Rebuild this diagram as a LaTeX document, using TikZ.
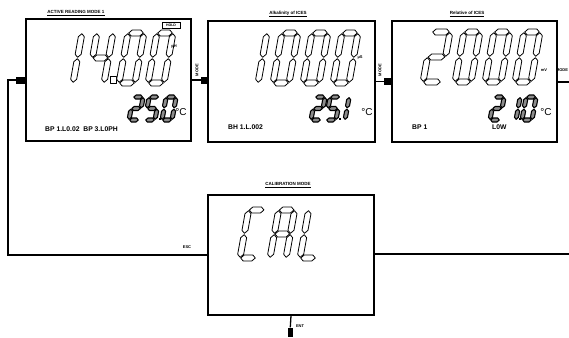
\documentclass[tikz,border=0pt]{standalone}
\usepackage{fontspec}
\setsansfont{Liberation Sans}
\tikzset{
  lcd/.style={draw=black, line width=1.3pt, fill=white, inner sep=0pt},
  seg/.style={draw=black, line width=0.8pt, fill=white, line join=round},
  tseg/.style={draw=black, line width=1.1pt, fill=black!45, line join=round},
  conn/.style={draw=black, line width=1.3pt},
  tag/.style={font=\sffamily\bfseries\fontsize{4}{4}\selectfont, inner sep=0pt},
  title/.style={font=\sffamily\bfseries\fontsize{4.5}{5}\selectfont, inner sep=0pt},
  info/.style={font=\sffamily\bfseries\fontsize{6.8}{7}\selectfont, inner sep=0pt, anchor=west},
  degc/.style={font=\sffamily\fontsize{10}{10}\selectfont, inner sep=0pt},
  pad/.style={fill=black, inner sep=0pt},
}
\newcommand\hsegm[4]{%
 \path[#1] ({#2+0.7},{#4}) -- ({#2+0.7+\dt},{#4+\dt}) -- ({#3-0.7-\dt},{#4+\dt}) -- ({#3-0.7},{#4}) -- ({#3-0.7-\dt},{#4-\dt}) -- ({#2+0.7+\dt},{#4-\dt}) -- cycle;}
\newcommand\vsegm[4]{%
 \path[#1] ({#2},{#3+0.7}) -- ({#2+\dt},{#3+0.7+\dt}) -- ({#2+\dt},{#4-0.7-\dt}) -- ({#2},{#4-0.7}) -- ({#2-\dt},{#4-0.7-\dt}) -- ({#2-\dt},{#3+0.7+\dt}) -- cycle;}
\def\dsega#1{\hsegm{#1}{0}{\dW}{\dH}}
\def\dsegb#1{\vsegm{#1}{\dW}{\dh}{\dH}}
\def\dsegc#1{\vsegm{#1}{\dW}{0}{\dh}}
\def\dsegd#1{\hsegm{#1}{0}{\dW}{0}}
\def\dsege#1{\vsegm{#1}{0}{0}{\dh}}
\def\dsegf#1{\vsegm{#1}{0}{\dh}{\dH}}
\def\dsegg#1{\hsegm{#1}{0}{\dW}{\dh}}
\newcommand\segdigit[7]{%
 \begin{scope}[shift={(#1pt,-#2pt)}, xslant=0.18, x=1pt, y=1pt]
  \pgfmathsetmacro\dW{#3}\pgfmathsetmacro\dH{#4}\pgfmathsetmacro\dt{#5/2}%
  \pgfmathsetmacro\dh{#4/2}%
  \foreach \s in {#7}{\csname dseg\s\endcsname{#6}}
 \end{scope}}
\begin{document}
\begin{tikzpicture}[x=1pt, y=-1pt]
\useasboundingbox (0,0) rectangle (569,337);
% boxes
\node[lcd, minimum width=165pt, minimum height=122pt] (b1) at (108.5,80) {};
\node[lcd, minimum width=167pt, minimum height=121pt] (b2) at (291.5,81.5) {};
\node[lcd, minimum width=165pt, minimum height=121pt] (b3) at (474.5,81.5) {};
\node[lcd, minimum width=166pt, minimum height=120pt] (cal) at (291,255) {};
% titles
\node[title] (t1) at (76,13) {\underline{ACTIVE READING MODE 1}};
\node[title] (t2) at (288,14) {\underline{Alkalinity of ICES}};
\node[title] (t3) at (467,14) {\underline{Relative of ICES}};
\node[title] (t4) at (288,185) {\underline{CALIBRATION MODE}};
% connectors
\coordinate (c1) at (8,81);
\coordinate (e3) at (569,82);
\coordinate (e4) at (569,254);
\draw[conn] (b1.west) -| (c1) |- (cal.west);
\draw[conn] (b1.east) -- (b1.east -| b2.west);
\draw[conn] (b2.east) -- (b2.east -| b3.west);
\draw[conn] (b3.east |- e3) -- (e3);
\draw[conn] (cal.east |- e4) -- (e4);
\node[pad, minimum width=9pt, minimum height=7pt, anchor=east] (p1) at (b1.west) {};
\node[pad, minimum width=6pt, minimum height=7pt, anchor=east] (p2) at (b2.west |- b1.east) {};
\node[pad, minimum width=7pt, minimum height=7pt, anchor=east] (p3) at (b3.west) {};
\node[pad, minimum width=5pt, minimum height=9pt] (p4) at (290,332) {};
\draw[conn] (cal.south) -- (p4);
% connector labels
\node[tag, rotate=90] (l1) at (197,70) {MODE};
\node[tag, rotate=90] (l2) at (380,70) {MODE};
\node[tag] (l3) at (562,70) {MODE};
\node[tag] (l4) at (187,247) {ESC};
\node[tag] (l5) at (300,326) {ENT};
% box 1 display
\segdigit{57}{83}{16}{50}{6}{seg}{b,c}
\segdigit{88}{83}{16}{50}{6}{seg}{f,g,b,c}
\draw[seg] (110,76) rectangle (116,83);
\segdigit{119}{83}{16}{50}{6}{seg}{a,b,c,d,e,f}
\segdigit{148}{83}{16}{50}{6}{seg}{a,b,c,d,e,f}
\node[tag] (u1) at (174,47) {pH};
\node[draw, line width=0.6pt, minimum width=18pt, minimum height=6pt, inner sep=0pt, font=\sffamily\bfseries\fontsize{3.5}{3.5}\selectfont] (h1) at (171,25) {HOLD};
\segdigit{129}{120}{10}{23}{4}{tseg}{a,b,g,e,d}
\segdigit{145}{120}{10}{23}{4}{tseg}{a,f,g,c,d}
\fill (159,118) rectangle (161,120);
\segdigit{162}{120}{10}{23}{4}{tseg}{a,b,c,d,e,f}
\node[degc] (d1) at (181,112) {\textdegree C};
\node[info] (i1) at (45,129) {BP 1.L0.02 \ BP 3.L0PH};
% box 2 display
\segdigit{242}{83}{16}{50}{6}{seg}{b,c}
\segdigit{273}{83}{16}{50}{6}{seg}{a,b,c,d,e,f}
\segdigit{303}{83}{16}{50}{6}{seg}{a,b,c,d,e,f}
\segdigit{333}{83}{16}{50}{6}{seg}{a,b,c,d,e,f}
\node[tag] (u2) at (360,58) {µS};
\segdigit{311}{120}{10}{23}{4}{tseg}{a,b,g,e,d}
\segdigit{326}{120}{10}{23}{4}{tseg}{a,f,g,c,d}
\fill (339,118) rectangle (341,120);
\segdigit{335}{120}{10}{23}{4}{tseg}{b,c}
\node[degc] (d2) at (367,112) {\textdegree C};
\node[info] (i2) at (228,127) {BH 1.L.002};
% box 3 display
\segdigit{423}{82}{18}{50}{6}{seg}{a,b,g,e,d}
\segdigit{455}{82}{16}{50}{6}{seg}{a,b,c,d,e,f}
\segdigit{485}{82}{16}{50}{6}{seg}{a,b,c,d,e,f}
\segdigit{515}{82}{16}{50}{6}{seg}{a,b,c,d,e,f}
\node[tag] (u3) at (544,70) {mV};
\segdigit{490}{120}{10}{23}{4}{tseg}{a,b,g,e,d}
\segdigit{506}{120}{10}{23}{4}{tseg}{b,c}
\fill (519,118) rectangle (521,120);
\segdigit{522}{120}{10}{23}{4}{tseg}{a,b,c,d,e,f}
\node[degc] (d3) at (546,112) {\textdegree C};
\node[info] (i3) at (412,127) {BP 1};
\node[info] (i4) at (492,127) {L0W};
% CAL display
\segdigit{240}{258}{16}{48}{6}{seg}{a,d,e,f}
\segdigit{270}{258}{16}{48}{6}{seg}{a,b,c,e,f,g}
\segdigit{300}{258}{16}{48}{6}{seg}{d,e,f}
\end{tikzpicture}
\end{document}
